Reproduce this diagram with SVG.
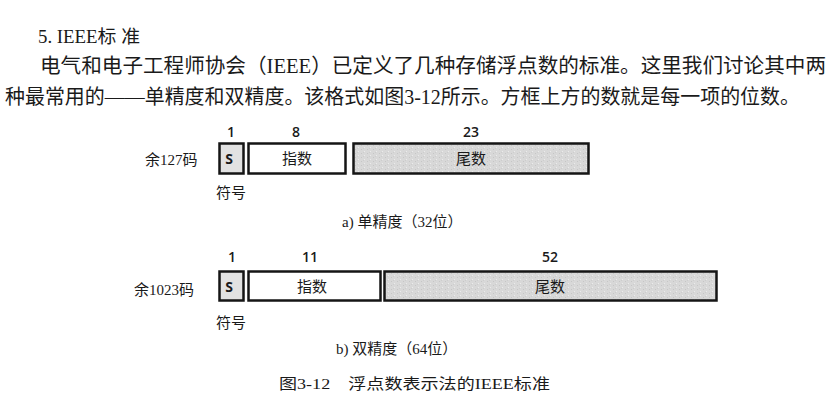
<svg xmlns="http://www.w3.org/2000/svg" width="838" height="409" viewBox="0 0 838 409">
  <style>
    .body { font-family: "Liberation Serif", "Noto Sans CJK SC", serif; fill: #1a1a1a; }
    .lbl { font-family: "Liberation Serif", "Noto Sans CJK SC", serif; fill: #1a1a1a; font-size: 15px; }
    .num { font-family: "Open Sans", "Noto Sans", sans-serif; font-weight: 600; font-size: 14px; fill: #1a1a1a; text-anchor: middle; }
    .fld { font-family: "Noto Sans CJK SC", sans-serif; font-size: 15px; fill: #1a1a1a; text-anchor: middle; }
    .sgn { font-family: "Open Sans", "Noto Sans", sans-serif; font-weight: 700; font-size: 14px; fill: #1a1a1a; text-anchor: middle; }
    .box { stroke: #151515; stroke-width: 2.5; }
    .plain { fill: #ffffff; }
    .shade { fill: #e2e2e2; }
  </style>
  <defs>
    <pattern id="grain" width="6" height="4" patternUnits="userSpaceOnUse">
      <rect width="6" height="4" fill="#d8d8d8"/>
      <rect x="1" y="1" width="1" height="1" fill="#c6c6c6"/>
      <rect x="4" y="3" width="1" height="1" fill="#ebebeb"/>
      <rect x="3" y="0" width="1" height="1" fill="#cdcdcd"/>
    </pattern>
  </defs>
  <rect width="838" height="409" fill="#ffffff"/>

  <!-- body text -->
  <text class="body" x="38" y="43" font-size="18.5" textLength="102" lengthAdjust="spacingAndGlyphs">5. IEEE标 准</text>
  <text class="body" x="40" y="73" font-size="20.5" textLength="786" lengthAdjust="spacingAndGlyphs">电气和电子工程师协会（IEEE）已定义了几种存储浮点数的标准。这里我们讨论其中两</text>
  <text class="body" x="5" y="104" font-size="20.5" textLength="795" lengthAdjust="spacingAndGlyphs">种最常用的——单精度和双精度。该格式如图3-12所示。方框上方的数就是每一项的位数。</text>

  <!-- single precision -->
  <g id="single">
    <text class="lbl" x="145" y="165">余127码</text>
    <text class="num" x="231" y="137">1</text>
    <text class="num" x="296" y="137">8</text>
    <text class="num" x="471" y="137">23</text>
    <g id="single-sign">
      <rect class="box shade" x="219.5" y="143.5" width="24" height="30"/>
      <text class="sgn" x="229" y="164">S</text>
    </g>
    <g id="single-exponent">
      <rect class="box plain" x="248.5" y="143.5" width="97" height="30"/>
      <text class="fld" x="297" y="164">指数</text>
    </g>
    <g id="single-mantissa">
      <rect class="box" fill="url(#grain)" x="353.5" y="143.5" width="235" height="30"/>
      <text class="fld" x="471" y="164">尾数</text>
    </g>
    <text class="lbl" x="216" y="198">符号</text>
    <text class="lbl" x="342" y="227">a) 单精度（32位）</text>
  </g>

  <!-- double precision -->
  <g id="double">
    <text class="lbl" x="134" y="295">余1023码</text>
    <text class="num" x="232" y="262">1</text>
    <text class="num" x="310" y="262">11</text>
    <text class="num" x="550" y="262">52</text>
    <g id="double-sign">
      <rect class="box shade" x="219.5" y="271.5" width="24" height="29"/>
      <text class="sgn" x="229" y="292">S</text>
    </g>
    <g id="double-exponent">
      <rect class="box plain" x="248.5" y="271.5" width="132" height="29"/>
      <text class="fld" x="312" y="292">指数</text>
    </g>
    <g id="double-mantissa">
      <rect class="box" fill="url(#grain)" x="384.5" y="271.5" width="332" height="29"/>
      <text class="fld" x="550" y="292">尾数</text>
    </g>
    <text class="lbl" x="216" y="328">符号</text>
    <text class="lbl" x="336" y="354">b) 双精度（64位）</text>
  </g>

  <!-- caption -->
  <text class="lbl" x="279" y="389" textLength="271" lengthAdjust="spacingAndGlyphs">图3-12　浮点数表示法的IEEE标准</text>
</svg>
